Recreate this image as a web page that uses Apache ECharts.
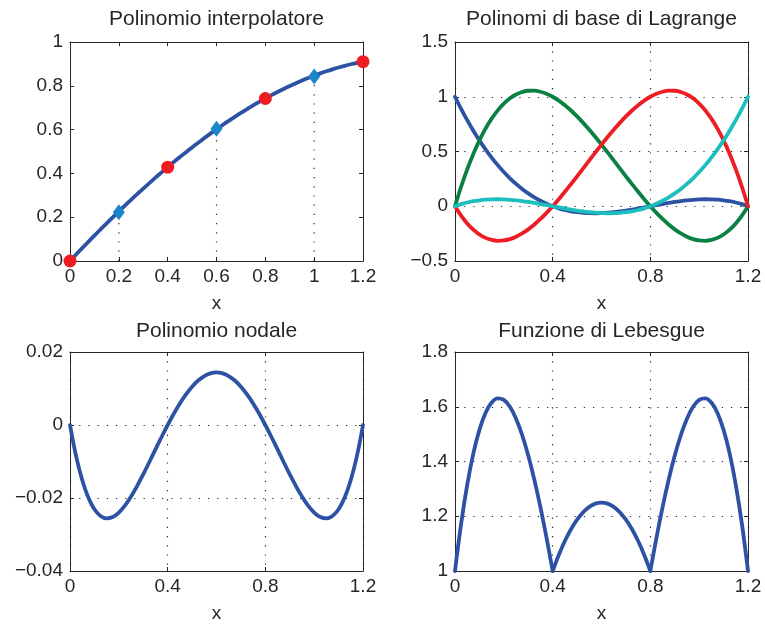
<!DOCTYPE html>
<html>
<head>
<meta charset="utf-8">
<script src="https://cdn.jsdelivr.net/npm/echarts@6/dist/echarts.min.js"></script>
<style>
html,body{margin:0;padding:0;background:#fff;}
#chart{width:765px;height:627px;}
</style>
</head>
<body>
<div id="chart"></div>
<script>
// ---- data ----
const xs = [0,0.025,0.05,0.075,0.1,0.125,0.15,0.175,0.2,0.225,0.25,0.275,0.3,0.325,0.35,0.375,0.4,0.425,0.45,0.475,0.5,0.525,0.55,0.575,0.6,0.625,0.65,0.675,0.7,0.725,0.75,0.775,0.8,0.825,0.85,0.875,0.9,0.925,0.95,0.975,1.0,1.025,1.05,1.075,1.1,1.125,1.15,1.175,1.2];
const nodesX = [0, 0.4, 0.8, 1.2];
const nodesY = [0, 0.4284, 0.7421, 0.9103];
const midX = [0.2, 0.6, 1.0];
const midY = [0.2227, 0.6039, 0.8427];
const interp = [0,0.0296,0.0588,0.0876,0.1162,0.1443,0.1721,0.1996,0.2266,0.2533,0.2795,0.3054,0.3309,0.3559,0.3805,0.4047,0.4284,0.4517,0.4745,0.4969,0.5188,0.5402,0.5611,0.5816,0.6015,0.6209,0.6399,0.6583,0.6761,0.6934,0.7102,0.7264,0.7421,0.7572,0.7717,0.7856,0.7990,0.8117,0.8239,0.8354,0.8463,0.8566,0.8662,0.8752,0.8836,0.8913,0.8983,0.9046,0.9103];
const L0 = [1,0.8893,0.7861,0.6903,0.6016,0.5197,0.4443,0.3754,0.3125,0.2555,0.2041,0.1581,0.1172,0.0812,0.0498,0.0228,0,-0.0189,-0.0342,-0.0460,-0.0547,-0.0604,-0.0635,-0.0641,-0.0625,-0.0590,-0.0537,-0.0470,-0.0391,-0.0302,-0.0205,-0.0104,0,0.0104,0.0205,0.0302,0.0391,0.0470,0.0537,0.0590,0.0625,0.0641,0.0635,0.0604,0.0547,0.0460,0.0342,0.0189,0];
const L1 = [0,0.1779,0.3369,0.4779,0.6016,0.7086,0.7998,0.8759,0.9375,0.9855,1.0205,1.0433,1.0547,1.0553,1.0459,1.0272,1,0.9650,0.9229,0.8744,0.8203,0.7614,0.6982,0.6317,0.5625,0.4913,0.4189,0.3461,0.2734,0.2018,0.1318,0.0643,0,-0.0604,-0.1162,-0.1666,-0.2109,-0.2484,-0.2783,-0.2999,-0.3125,-0.3153,-0.3076,-0.2887,-0.2578,-0.2142,-0.1572,-0.0861,0];
const L2 = [0,-0.0861,-0.1572,-0.2142,-0.2578,-0.2887,-0.3076,-0.3153,-0.3125,-0.2999,-0.2783,-0.2484,-0.2109,-0.1666,-0.1162,-0.0604,0,0.0643,0.1318,0.2018,0.2734,0.3461,0.4189,0.4913,0.5625,0.6317,0.6982,0.7614,0.8203,0.8744,0.9229,0.9650,1,1.0272,1.0459,1.0553,1.0547,1.0433,1.0205,0.9855,0.9375,0.8759,0.7998,0.7086,0.6016,0.4779,0.3369,0.1779,0];
const L3 = [0,0.0189,0.0342,0.0460,0.0547,0.0604,0.0635,0.0641,0.0625,0.0590,0.0537,0.0470,0.0391,0.0302,0.0205,0.0104,0,-0.0104,-0.0205,-0.0302,-0.0391,-0.0470,-0.0537,-0.0590,-0.0625,-0.0641,-0.0635,-0.0604,-0.0547,-0.0460,-0.0342,-0.0189,0,0.0228,0.0498,0.0812,0.1172,0.1581,0.2041,0.2555,0.3125,0.3754,0.4443,0.5197,0.6016,0.6903,0.7861,0.8893,1];
const nodal = [0,-0.00854,-0.01509,-0.01988,-0.02310,-0.02494,-0.02559,-0.02522,-0.02400,-0.02207,-0.01959,-0.01669,-0.01350,-0.01013,-0.00669,-0.00329,0,0.00309,0.00591,0.00839,0.01050,0.01218,0.01341,0.01415,0.01440,0.01415,0.01341,0.01218,0.01050,0.00839,0.00591,0.00309,0,-0.00329,-0.00669,-0.01013,-0.01350,-0.01669,-0.01959,-0.02207,-0.02400,-0.02522,-0.02559,-0.02494,-0.02310,-0.01988,-0.01509,-0.00854,0];
const lebesgue = [1,1.1721,1.3145,1.4285,1.5156,1.5774,1.6152,1.6306,1.625,1.5999,1.5566,1.4968,1.4219,1.3333,1.2324,1.1208,1,1.0586,1.1094,1.1523,1.1875,1.2148,1.2344,1.2461,1.25,1.2461,1.2344,1.2148,1.1875,1.1523,1.1094,1.0586,1,1.1208,1.2324,1.3333,1.4219,1.4968,1.5566,1.5999,1.625,1.6306,1.6152,1.5774,1.5156,1.4285,1.3145,1.1721,1];
const titles = ['Polinomio interpolatore','Polinomi di base di Lagrange','Polinomio nodale','Funzione di Lebesgue'];
const xIntervals = [0.2, 0.4, 0.4, 0.4];
const yRanges = [[0,1,0.2],[-0.5,1.5,0.5],[-0.04,0.02,0.02],[1,1.8,0.2]];
const showGridLines = [false, true, true, true];

// ---- style ----
const TXT = '#262626';
const FONT = 'Liberation Sans, Arial, Helvetica, sans-serif';
const BLUE = '#2E52A3';
const LW = 3.8;
const gridsPos = [
  {left:70, top:42, width:293, height:219},
  {left:455, top:42, width:293, height:219},
  {left:70, top:352, width:293, height:219},
  {left:455, top:352, width:293, height:219}
];
const dotted = {color:'#222', width:1.2, type:[1.2,8]};
function fmt(v){
  let s = String(+(+v).toFixed(4));
  return s.replace('-', '\u2212');
}
const xAxes = [], yAxes = [];
for (let g = 0; g < 4; g++) {
  const common = {
    type:'value', gridIndex:g,
    axisLine:{show:true, onZero:false, lineStyle:{color:TXT, width:1}},
    axisTick:{show:true, inside:true, length:4, lineStyle:{color:TXT, width:1}},
  };
  xAxes.push(Object.assign({}, common, {
    position:'bottom', min:0, max:1.2, interval:xIntervals[g],
    axisLabel:{show:true, formatter:fmt, fontSize:19, color:TXT, margin:6, fontFamily:FONT},
    splitLine:{show:showGridLines[g], lineStyle:dotted},
    name:'x', nameLocation:'middle', nameGap:33,
    nameTextStyle:{fontSize:19, color:TXT, fontFamily:FONT}
  }));
  xAxes.push(Object.assign({}, common, {
    position:'top', min:0, max:1.2, interval:xIntervals[g],
    axisLabel:{show:false}, splitLine:{show:false}
  }));
  const [mn, mx, iv] = yRanges[g];
  yAxes.push(Object.assign({}, common, {
    position:'left', min:mn, max:mx, interval:iv,
    axisLabel:{show:true, formatter:fmt, fontSize:19, color:TXT, margin:7, fontFamily:FONT},
    splitLine:{show:showGridLines[g], lineStyle:dotted}
  }));
  yAxes.push(Object.assign({}, common, {
    position:'right', min:mn, max:mx, interval:iv,
    axisLabel:{show:false}, splitLine:{show:false}
  }));
}
function pairs(arr){ return xs.map((x,i)=>[x, arr[i]]); }
function curve(g, data, color){
  return {
    type:'line', xAxisIndex:2*g, yAxisIndex:2*g, data:data, smooth:0.4,
    symbol:'none', lineStyle:{color:color, width:LW, join:'round', cap:'round'}, z:2, silent:true
  };
}
const series = [];
// plot 1
midX.forEach((x,i)=>{
  series.push({type:'line', xAxisIndex:0, yAxisIndex:0, data:[[x,0],[x,midY[i]]],
    symbol:'none', lineStyle:dotted, z:1, silent:true});
});
series.push(curve(0, pairs(interp), BLUE));
series.push({type:'scatter', xAxisIndex:0, yAxisIndex:0, data:midX.map((x,i)=>[x,midY[i]]),
  symbol:'diamond', symbolSize:[12,16], itemStyle:{color:'#1A87CB', opacity:1}, z:3, clip:false, silent:true});
series.push({type:'scatter', xAxisIndex:0, yAxisIndex:0, data:nodesX.map((x,i)=>[x,nodesY[i]]),
  symbol:'circle', symbolSize:13, itemStyle:{color:'#EE1D24', opacity:1}, z:4, clip:false, silent:true});
// plot 2
series.push(curve(1, pairs(L0), BLUE));
series.push(curve(1, pairs(L1), '#0B8043'));
series.push(curve(1, pairs(L2), '#EE1D24'));
series.push(curve(1, pairs(L3), '#1DBEBE'));
// plot 3
series.push(curve(2, pairs(nodal), BLUE));
// plot 4 (split at nodes, where the function has corners)
const lebPairs = pairs(lebesgue);
for (let s = 0; s < 3; s++) {
  series.push(curve(3, lebPairs.slice(16*s, 16*s+17), BLUE));
}
const title = titles.map((t,g)=>({
  text:t, left:gridsPos[g].left + gridsPos[g].width/2, textAlign:'center',
  top: g < 2 ? 9 : 321, padding:0,
  textStyle:{fontSize:21, fontWeight:'normal', color:TXT, fontFamily:FONT}
}));
const chart = echarts.init(document.getElementById('chart'), null, {renderer:'canvas'});
chart.setOption({
  animation:false,
  backgroundColor:'#fff',
  textStyle:{fontFamily:FONT},
  title:title,
  grid:gridsPos,
  xAxis:xAxes,
  yAxis:yAxes,
  series:series
});
</script>
</body>
</html>
